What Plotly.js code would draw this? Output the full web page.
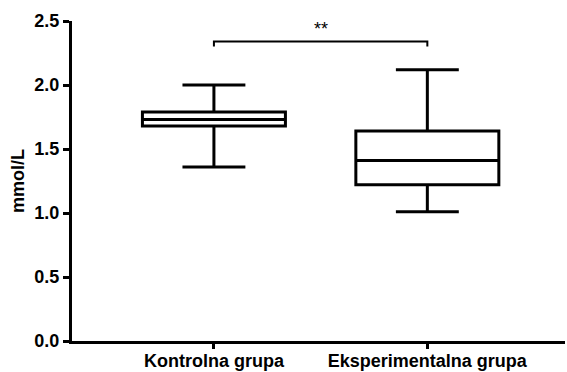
<!DOCTYPE html>
<html>
<head>
<meta charset="utf-8">
<script src="https://cdn.plot.ly/plotly-3.0.1.min.js"></script>
<style>
  html, body { margin: 0; padding: 0; background: #fff; }
  #chart { width: 567px; height: 372px; }
</style>
</head>
<body>
<div id="chart"></div>
<script>
// Group labels and box-plot summary statistics (mmol/L)
const groups = ['Kontrolna grupa', 'Eksperimentalna grupa'];
const lowerWhisker = [1.36, 1.01];
const q1Values = [1.68, 1.22];
const medians = [1.73, 1.41];
const q3Values = [1.79, 1.64];
const upperWhisker = [2.00, 2.12];

// Significance bracket between the two groups
const sigLabel = '**';
const bracketLevel = 2.34;
const bracketDrop = 2.30;

const FONT = 'Liberation Sans, Arial, sans-serif';

const trace = {
  type: 'box',
  x: groups,
  q1: q1Values,
  median: medians,
  q3: q3Values,
  lowerfence: lowerWhisker,
  upperfence: upperWhisker,
  boxpoints: false,
  width: 0.67,
  whiskerwidth: 0.44,
  fillcolor: 'rgba(255,255,255,0)',
  line: { color: '#000', width: 3 },
  hoverinfo: 'skip',
  showlegend: false
};

const layout = {
  width: 567,
  height: 372,
  margin: { l: 72, r: 2, t: 21, b: 31 },
  paper_bgcolor: '#fff',
  plot_bgcolor: '#fff',
  font: { family: FONT, color: '#000' },
  showlegend: false,
  xaxis: {
    type: 'category',
    range: [-0.665, 1.645],
    showgrid: false,
    zeroline: false,
    showline: true,
    linecolor: '#000',
    linewidth: 3,
    ticks: 'outside',
    ticklen: 5,
    tickwidth: 3,
    tickcolor: '#000',
    ticklabelstandoff: -4,
    tickfont: { family: FONT, size: 18, color: '#000', weight: 'bold' }
  },
  yaxis: {
    range: [0, 2.5],
    dtick: 0.5,
    tickformat: '.1f',
    showgrid: false,
    zeroline: false,
    showline: true,
    linecolor: '#000',
    linewidth: 3,
    ticks: 'outside',
    ticklen: 6,
    tickwidth: 3,
    tickcolor: '#000',
    tickfont: { family: FONT, size: 18, color: '#000', weight: 'bold' },
    title: { text: 'mmol/L', standoff: 6, font: { family: FONT, size: 18, color: '#000', weight: 'bold' } }
  },
  shapes: [{
    type: 'path',
    xref: 'x', yref: 'y',
    path: `M 0 ${bracketDrop} L 0 ${bracketLevel} L 1 ${bracketLevel} L 1 ${bracketDrop}`,
    line: { color: '#000', width: 2 }
  }],
  annotations: [{
    xref: 'x', yref: 'y',
    x: 0.5, y: bracketLevel,
    yanchor: 'bottom',
    text: sigLabel,
    showarrow: false,
    font: { family: FONT, size: 18, color: '#000' }
  }]
};

Plotly.newPlot('chart', [trace], layout, { displayModeBar: false, staticPlot: true });
</script>
</body>
</html>
